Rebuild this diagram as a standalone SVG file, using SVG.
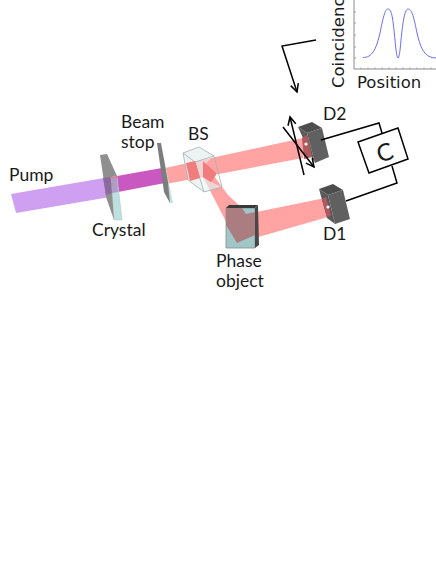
<svg xmlns="http://www.w3.org/2000/svg" width="436" height="564" viewBox="0 0 436 564">
<style>
text{font-family:"Lato","Liberation Sans",sans-serif;font-weight:400;fill:#1a1a1a}
.l{font-size:17.500px}
.p{font-family:"DejaVu Sans",sans-serif;font-weight:400;font-size:16.500px}
.w{fill:none;stroke:#000;stroke-width:1.500}
.beam{fill:#ffa3a3}
.over{fill:#f27b7b}
.edge{fill:none;stroke:#a0b2b2;stroke-width:.8}
</style>
<defs>
<marker id="a" markerWidth="12" markerHeight="12" refX="9" refY="5" orient="auto" markerUnits="userSpaceOnUse"><path d="M1 1L9 5L1 9" fill="none" stroke="#000" stroke-width="1.500"/></marker>
</defs>
<rect width="436" height="564" fill="#fff"/>
<g id="beams">
<polygon points="11,194 104,178 110,197 16,213" fill="#cf9ff2"/>
<polygon points="117,176 162,168 165,183 118,192" fill="#c958c0"/>
<polygon class="beam" points="165,168 303,138 303,158 166,184"/>
<polygon class="beam" points="203,161 228,195 242,208 246,214 325,198 328,217 237,243 203,177"/>
</g>
<g id="crystal">
<polygon points="111,177 117,176 122,220 114,220" fill="#bfe0e0" stroke="#a8c4c4" stroke-width=".5"/>
<polygon points="100,155 107,154 117,176 111,177 114,220 106,197 103,175" fill="#8f8f8f"/>
<polygon points="103,178 111,177 112,193 106,195" fill="#8a6c9c"/>
<polygon points="111,177 117,176 118,192 112,193" fill="#b09cc4"/>
<polygon points="110,177.500 117,176 117,178 110,179" fill="#d9808a"/>
</g>
<g id="beam-stop">
<polygon points="161,143 173,203 170,203 166,196 167,180" fill="#c4e2e4"/>
<polygon points="157,143 161,143 168,182 170,203 164,192" fill="#7d7d7d"/>
</g>
<g id="bs">
<polygon points="183,153 199,147 214,156 195,162 204,192 188,180" fill="#e6eeee" fill-opacity=".7"/>
<polygon points="195,162 214,156 207,162 203,177 211,182 222,187 204,192" fill="#e4f3f3" fill-opacity=".6"/>
<polygon class="edge" points="183,153 199,147 214,156 222,187 204,192 188,180"/>
<path class="edge" d="M183,153L195,162L214,156M195,162L204,192"/>
<polygon class="over" points="186,163 195,161 200,178 190,181"/>
<polygon class="over" points="203,161 216,173 216,175 211,182 203,177"/>
</g>
<g id="phase-object">
<polygon points="226,208 255,208 255,248 226,248" fill="#a0c6c8" stroke="#7c8f90" stroke-width=".8"/>
<polygon points="226,210 226,208 242,208 246,214 255,212 255,235 237,243 226,225" fill="#ab7c80"/>
<polygon points="226,208 229,205 258,205 255,208" fill="#3a3a3a"/>
<polygon points="255,208 258,205 259,245 255,248" fill="#484848"/>
</g>
<g id="d2">
<polygon points="298,127 312,122 322,128 307,133" fill="#4d4d4d"/>
<polygon points="298,127 307,133 315,163 312,158" fill="#5a5a5a"/>
<polygon points="307,133 322,128 329,157 315,163" fill="#606060"/>
<polygon points="302,138 307,135 312,157 304,159" fill="#b0585c"/>
<circle cx="306" cy="144" r="1.600" fill="#fff"/>
</g>
<g id="d1">
<polygon points="319,189 333,184 343,190 328,195" fill="#4d4d4d"/>
<polygon points="319,189 328,195 335,224 327,218" fill="#5a5a5a"/>
<polygon points="328,195 343,190 350,219 335,224" fill="#606060"/>
<polygon points="322,199 326,197 331,216 327,217" fill="#b0585c"/>
<circle cx="328" cy="207" r="1.600" fill="#fff"/>
</g>
<g id="c">
<polygon points="358,142 398,128 408,159 369,173" fill="#fff" stroke="#000" stroke-width="1.500"/>
<text x="385" y="161" text-anchor="middle" transform="rotate(-18 385 153)" style="font-size:24px">C</text>
</g>
<g id="connectors">
<path class="w" d="M321,140L379,123L382,133"/>
<path class="w" d="M346,201L397,183L392,166"/>
<path class="w" d="M304,175L290,117" marker-end="url(#a)"/>
<path class="w" d="M283,127L314,167" marker-end="url(#a)"/>
<path class="w" d="M316,40L282,46L297,92" marker-end="url(#a)"/>
</g>
<g id="plot">
<path d="M354,0V69H436" fill="none" stroke="#8a8a8a"/>
<path d="M354,12h2M354,23h2M354,35h2M354,47h2M354,58h2M361,69v-1.500M368,69v-1.500M375,69v-1.500M382,69v-1.500M389,69v-1.500M396,69v-1.500M403,69v-1.500M410,69v-1.500M417,69v-1.500M424,69v-1.500M431,69v-1.500" stroke="#9a9a9a" fill="none"/>
<path d="M363,57.500C372,57.500 376,50 380,33C383,18 385,9 388,9C392,9 393,20 395,40C396,52 397,58 398,58C399,58 400,52 401,40C403,20 405,9 408,9C412,9 414,18 417,33C421,50 425,57.500 436,58" fill="none" stroke="#6a6aff"/>
<text class="p" x="357" y="88">Position</text>
<text class="p" transform="translate(344,88) rotate(-90)">Coincidence</text>
</g>
<g id="labels">
<text class="l" x="9" y="181">Pump</text>
<text class="l" x="121" y="128">Beam</text>
<text class="l" x="121" y="148">stop</text>
<text class="l" x="188" y="140">BS</text>
<text class="l" x="92" y="236">Crystal</text>
<text class="l" x="323" y="120">D2</text>
<text class="l" x="323" y="240">D1</text>
<text class="l" x="216" y="267">Phase</text>
<text class="l" x="216" y="287">object</text>
</g>
</svg>
